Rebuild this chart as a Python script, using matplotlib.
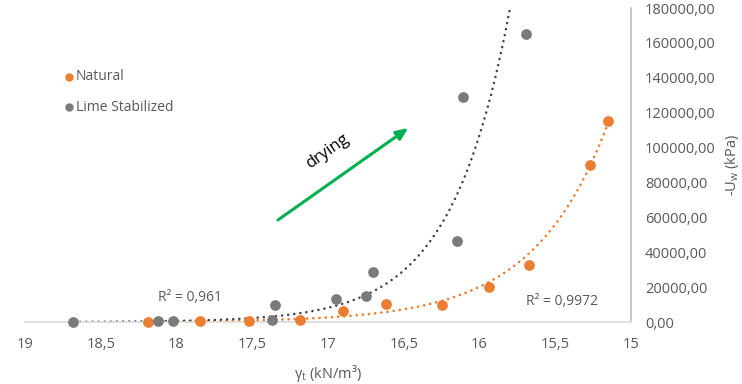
import numpy as np
import matplotlib
matplotlib.use("Agg")
import matplotlib.pyplot as plt
from matplotlib.ticker import FuncFormatter, MultipleLocator

plt.rcParams['font.family'] = ['Open Sans', 'DejaVu Sans']
plt.rcParams['mathtext.fontset'] = 'custom'
plt.rcParams['mathtext.rm'] = 'Open Sans'
plt.rcParams['mathtext.it'] = 'Open Sans:italic'

# ---- data ----
natural_gamma = [18.19, 17.845, 17.52, 17.185, 16.90, 16.62, 16.25, 15.94, 15.67, 15.27, 15.15]
natural_uw = [250, 400, 700, 1200, 6300, 10300, 9700, 20000, 32700, 90000, 115200]

lime_gamma = [18.68, 18.12, 18.02, 17.37, 17.35, 16.95, 16.75, 16.70, 16.15, 16.11, 15.69]
lime_uw = [150, 400, 300, 1100, 9700, 13200, 14900, 28700, 46400, 129000, 165100]

series_names = ["Natural", "Lime Stabilized"]
r2_labels = ["R² = 0,9972", "R² = 0,961"]
x_label = "γ$_\\mathrm{t}$ (kN/m³)"
y_label = "-U$_\\mathrm{w}$ (kPa)"
arrow_label = "drying"

c_nat = "#ED7D31"
c_lime = "#7A7A7A"
c_lime_trend = "#404040"
c_text = "#595959"

fig = plt.figure(figsize=(7.42, 3.84), dpi=100)
ax = fig.add_axes([25/742, 62/384, 606/742, 314/384])
ax.set_xlim(19, 15)
ax.set_ylim(0, 180000)


def exp_fit(x, y):
    x = np.asarray(x, float)
    y = np.asarray(y, float)
    b, lna = np.polyfit(x, np.log(y), 1)
    xs = np.linspace(x.min(), x.max(), 400)
    return xs, np.exp(lna + b * xs)


xs, ys = exp_fit(natural_gamma, natural_uw)
ax.plot(xs, ys, color=c_nat, lw=1.9, linestyle=(0, (0.05, 2.3)), dash_capstyle='round', zorder=2)
xs, ys = exp_fit(lime_gamma, lime_uw)
ax.plot(xs, ys, color=c_lime_trend, lw=1.8, linestyle=(0, (0.05, 2.4)), dash_capstyle='round', zorder=2)

ax.scatter(natural_gamma, natural_uw, s=45, color=c_nat, zorder=3, label=series_names[0], clip_on=False)
ax.scatter(lime_gamma, lime_uw, s=45, color=c_lime, zorder=3, label=series_names[1], clip_on=False)

# axes styling
for side in ("left", "top"):
    ax.spines[side].set_visible(False)
ax.spines["bottom"].set_color("#D9D9D9")
ax.spines["right"].set_color("#BFBFBF")
ax.spines["bottom"].set_linewidth(1.2)
ax.spines["right"].set_linewidth(1.2)

ax.yaxis.tick_right()
ax.yaxis.set_label_position("right")
ax.xaxis.set_major_locator(MultipleLocator(0.5))
ax.yaxis.set_major_locator(MultipleLocator(20000))
ax.xaxis.set_major_formatter(FuncFormatter(lambda v, p: f"{v:g}".replace(".", ",")))
ax.yaxis.set_major_formatter(FuncFormatter(lambda v, p: f"{v:.2f}".replace(".", ",")))
ax.tick_params(axis="both", length=0, labelsize=10.5, colors=c_text)
ax.tick_params(axis="x", pad=11)
ax.tick_params(axis="y", pad=10)

ax.set_xlabel(x_label, fontsize=10.5, color=c_text, labelpad=8)
ax.set_ylabel(y_label, fontsize=10.5, color=c_text, labelpad=5)

# legend
leg = ax.legend(loc="upper left", bbox_to_anchor=(0.04, 0.845), frameon=False, fontsize=10,
                handletextpad=0.0, labelspacing=1.15, markerscale=0.75, handlelength=1.0,
                labelcolor=c_text)

# R2 labels
ax.text(17.91, 14300, r2_labels[1], fontsize=10, color=c_text, ha="center", va="center")
ax.text(15.455, 12000, r2_labels[0], fontsize=10, color=c_text, ha="center", va="center")

# drying arrow
ax.annotate("", xy=(16.47, 111200), xytext=(17.33, 58500),
            arrowprops=dict(arrowstyle="-|>,head_length=0.7,head_width=0.3", color="#00B050", lw=2.2,
                            shrinkA=0, shrinkB=0))
ax.text(17.0, 98000, arrow_label, fontsize=12, rotation=35, ha="center", va="center", color="black")

fig.savefig("out.png", dpi=100)
